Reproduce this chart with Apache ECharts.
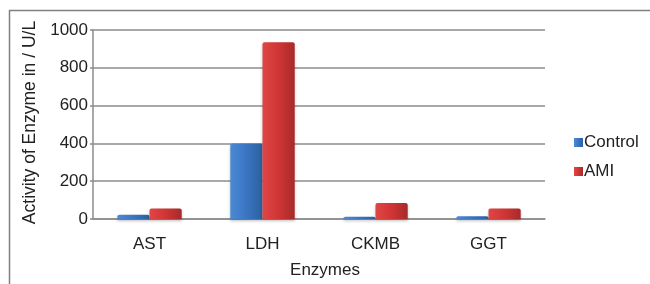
<!DOCTYPE html>
<html><head><meta charset="utf-8">
<script src="https://cdn.jsdelivr.net/npm/echarts@6/dist/echarts.min.js"></script>
<style>html,body{margin:0;padding:0;background:#fff}#c{width:650px;height:284px}</style>
</head><body><div id="c"></div>
<script>
const categories = ["AST", "LDH", "CKMB", "GGT"];
const controlValues = [22, 400, 12, 14];
const amiValues = [55, 935, 85, 55];
const yTicks = [0, 200, 400, 600, 800, 1000];

const chart = echarts.init(document.getElementById('c'), null, {renderer: 'canvas'});
const blue = new echarts.graphic.LinearGradient(0, 0, 1, 0, [
  {offset: 0, color: '#4c8ad6'}, {offset: 0.5, color: '#3a75c2'}, {offset: 1, color: '#2c5f9e'}]);
const red = new echarts.graphic.LinearGradient(0, 0, 1, 0, [
  {offset: 0, color: '#e04646'}, {offset: 0.5, color: '#cf3535'}, {offset: 1, color: '#a82a2a'}]);
const font = 'Liberation Sans, Arial, sans-serif';
chart.setOption({
  animation: false,
  textStyle: {fontFamily: font},
  graphic: [{
    type: 'rect', shape: {x: 9.5, y: 10.5, width: 700, height: 400},
    style: {fill: 'none', stroke: '#808080', lineWidth: 1.5}, silent: true
  }],
  grid: {left: 93, right: 105, top: 30, bottom: 60},
  legend: {
    orient: 'vertical', left: 569, top: 129, itemWidth: 9, itemHeight: 9, itemGap: 12,
    icon: 'rect',
    textStyle: {fontSize: 17, color: '#222', fontFamily: font, padding: [0, 0, 0, -4]},
    data: ['Control', 'AMI']
  },
  xAxis: {
    type: 'category', data: categories,
    name: 'Enzymes', nameLocation: 'middle', nameGap: 43,
    nameTextStyle: {fontSize: 17, color: '#222', padding: [0, 0, 0, 12]},
    axisLine: {lineStyle: {color: '#8c8c8c', width: 1.5}},
    axisTick: {show: false},
    axisLabel: {fontSize: 17, color: '#222', margin: 17}
  },
  yAxis: {
    type: 'value', min: 0, max: 1000, interval: 200,
    name: 'Activity of Enzyme in / U/L', nameLocation: 'middle', nameGap: 51,
    nameTextStyle: {fontSize: 17.5, color: '#222', padding: [0, 0, 0, 4]},
    axisLine: {show: true, lineStyle: {color: '#8c8c8c', width: 1.5}},
    axisTick: {show: true, length: 3, lineStyle: {color: '#8c8c8c', width: 1.5}},
    axisLabel: {fontSize: 17, color: '#222', margin: 5,
      formatter: v => yTicks.includes(v) ? String(v) : ''},
    splitLine: {lineStyle: {color: '#8c8c8c', width: 1.5}}
  },
  series: [
    {name: 'Control', type: 'bar', data: controlValues, barGap: '0%', barCategoryGap: '43%',
     itemStyle: {color: blue, borderRadius: [2, 2, 0, 0], shadowColor: 'rgba(0,0,0,0.25)', shadowBlur: 3, shadowOffsetY: 2}},
    {name: 'AMI', type: 'bar', data: amiValues,
     itemStyle: {color: red, borderRadius: [2, 2, 0, 0], shadowColor: 'rgba(0,0,0,0.25)', shadowBlur: 3, shadowOffsetY: 2}}
  ]
});
</script></body></html>
